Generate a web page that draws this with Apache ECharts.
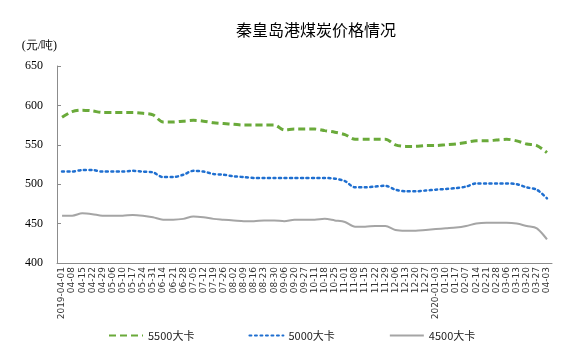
<!DOCTYPE html>
<html><head><meta charset="utf-8">
<script src="https://cdn.jsdelivr.net/npm/echarts@6/dist/echarts.min.js"></script>
<style>html,body{margin:0;padding:0;background:#fff}#c{width:585px;height:362px}</style>
</head><body><div id="c"></div>
<script>
var categories = ['2019-04-01','04-08','04-15','04-22','04-29','05-06','05-10','05-17','05-24','05-31','06-14','06-21','06-28','07-05','07-12','07-19','07-26','08-02','08-09','08-16','08-23','08-30','09-06','09-20','09-27','10-11','10-18','10-25','11-01','11-08','11-15','11-22','11-29','12-06','12-13','12-20','12-27','2020-01-03','01-10','01-17','02-07','02-14','02-21','02-28','03-06','03-13','03-20','03-27','04-03'];
var s5500 = [585,592,594,593,591,591,591,591,590,588,579,579,580,581,580,578,577,576,575,575,575,575,569,570,570,570,568,566,563,557,557,557,557,550,548,548,549,549,550,551,553,555,555,556,557,555,551,549,540];
var s5000 = [516,516,518,518,516,516,516,517,516,515,509,509,512,517,516,513,512,510,509,508,508,508,508,508,508,508,508,507,504,496,496,497,498,493,491,491,492,493,494,495,497,501,501,501,501,500,496,493,482];
var s4500 = [460,460,463,462,460,460,460,461,460,458,455,455,456,459,458,456,455,454,453,453,454,454,453,455,455,455,456,454,452,446,446,447,447,442,441,441,442,443,444,445,447,450,451,451,451,450,447,444,430];
var seriesNames = ['5500大卡','5000大卡','4500大卡'];
var yTicks = {min:400, max:650, interval:50};

var chart = echarts.init(document.getElementById('c'), null, {renderer:'canvas'});
var axisColor = '#8c8c8c';
chart.setOption({
  animation:false,
  title:{text:'秦皇岛港煤炭价格情况', left:311, top:17, textAlign:'center',
    textStyle:{fontFamily:'Noto Sans CJK SC', fontSize:16, fontWeight:'normal', color:'#000'}},
  grid:{left:57, right:33, top:66, bottom:99},
  legend:{data:seriesNames, bottom:16, left:103, itemWidth:34, itemHeight:10, itemGap:54,
    itemStyle:{opacity:0},
    textStyle:{fontFamily:'Noto Sans CJK SC', fontSize:11, color:'#222'}},
  xAxis:{type:'category', data:categories, boundaryGap:true,
    axisLine:{lineStyle:{color:axisColor, width:1}},
    axisTick:{inside:true, length:4, lineStyle:{color:axisColor}, interval:function(i){return i%3===1;}},
    axisLabel:{interval:0, rotate:90, fontSize:9, margin:4, color:'#333', fontFamily:'DejaVu Sans'}},
  yAxis:{type:'value', min:yTicks.min, max:yTicks.max, interval:yTicks.interval,
    name:'(元/吨)', nameLocation:'end', nameGap:14,
    nameTextStyle:{fontFamily:'Liberation Serif', fontSize:12, color:'#000', align:'right', padding:[0,0,0,0]},
    axisLine:{show:true, lineStyle:{color:axisColor}},
    axisTick:{show:true, inside:true, length:4, lineStyle:{color:axisColor}},
    splitLine:{show:false},
    axisLabel:{fontFamily:'Liberation Serif', fontSize:12, color:'#000', margin:14}},
  series:[
    {name:seriesNames[0], type:'line', data:s5500, smooth:0.3, symbol:'none',
      lineStyle:{color:'#6aaa3a', width:3, type:[7,4]}, itemStyle:{color:'#6aaa3a'}},
    {name:seriesNames[1], type:'line', data:s5000, smooth:0.3, symbol:'none',
      lineStyle:{color:'#1f6fd0', width:2.5, type:[2,3.5], cap:'round'}, itemStyle:{color:'#1f6fd0'}},
    {name:seriesNames[2], type:'line', data:s4500, smooth:0.3, symbol:'none',
      lineStyle:{color:'#a5a5a5', width:2}, itemStyle:{color:'#a5a5a5'}}
  ]
});
</script></body></html>
